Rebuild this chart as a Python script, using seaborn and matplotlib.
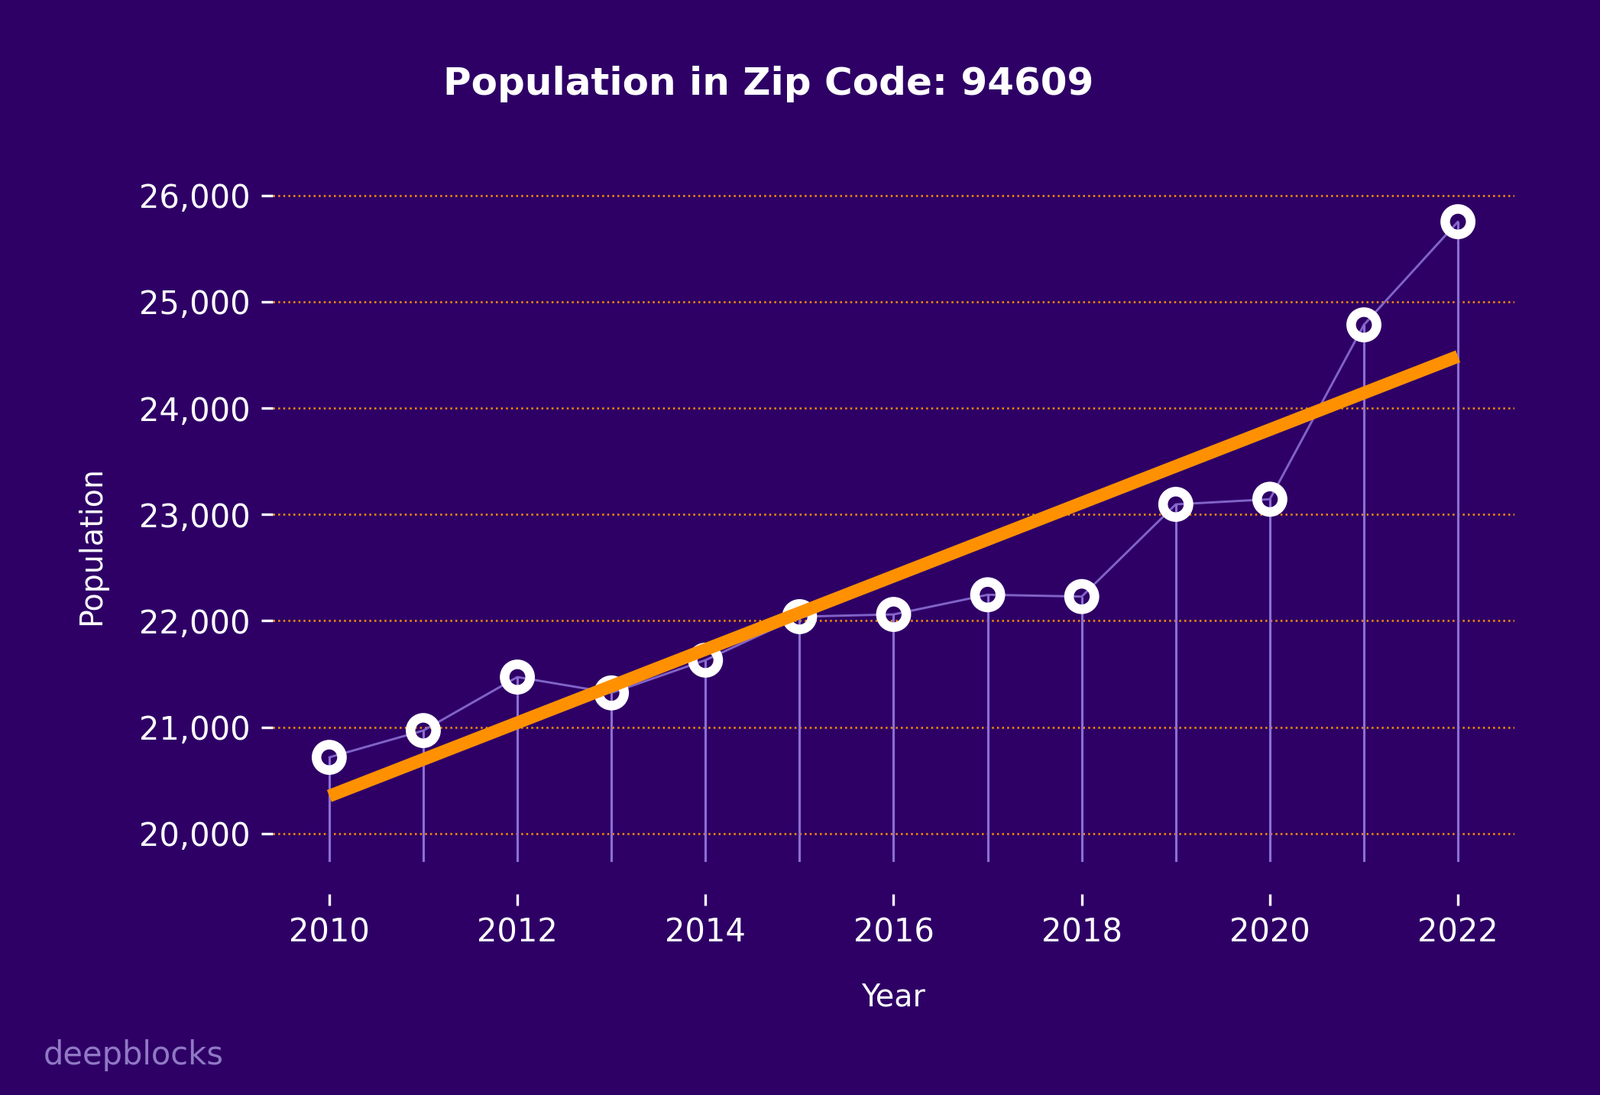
import numpy as np
import pandas as pd
import seaborn as sns
import matplotlib
matplotlib.use('Agg')
import matplotlib.pyplot as plt
from matplotlib.ticker import FuncFormatter, MultipleLocator

# === data ===
years = [2010, 2011, 2012, 2013, 2014, 2015, 2016, 2017, 2018, 2019, 2020, 2021, 2022]
population = [20716, 20968, 21471, 21322, 21630, 22039, 22060, 22245, 22228, 23095, 23143, 24783, 25753]

title = 'Population in Zip Code: 94609'
x_label = 'Year'
y_label = 'Population'
watermark = 'deepblocks'

df = pd.DataFrame({'Year': years, 'Population': population})

# === style ===
BG = '#2e0066'
LAVENDER = '#8b6fd3'
ORANGE = '#ff9100'

sns.set_style('ticks')
plt.rcParams['font.family'] = ['DejaVu Sans']
plt.rcParams['text.color'] = 'white'
plt.rcParams['axes.labelcolor'] = 'white'

fig = plt.figure(figsize=(2094 / 300, 1433 / 300), dpi=300, facecolor=BG)
ax = fig.add_axes([0.1705, 0.2126, 0.776, 0.6138])
ax.set_facecolor(BG)

Y_MIN, Y_MAX = 19730, 26050

# stems from the bottom of the axes to each point
ax.vlines(df['Year'], Y_MIN, df['Population'], color=LAVENDER, linewidth=0.75, zorder=2)
# thin line connecting the points
sns.lineplot(data=df, x='Year', y='Population', color=LAVENDER, linewidth=0.7,
             alpha=0.9, zorder=2, ax=ax)
# ring markers
sns.scatterplot(data=df, x='Year', y='Population', s=64, facecolor='none',
                edgecolor='white', linewidth=3, zorder=3, ax=ax)
# linear trend
sns.regplot(data=df, x='Year', y='Population', scatter=False, ci=None,
            line_kws={'color': ORANGE, 'linewidth': 4, 'zorder': 4,
                      'solid_capstyle': 'butt'}, ax=ax)

ax.set_ylim(Y_MIN, Y_MAX)
ax.yaxis.set_major_locator(MultipleLocator(1000))
ax.yaxis.set_major_formatter(FuncFormatter(lambda v, p: f'{int(v):,}'))
ax.xaxis.set_major_locator(MultipleLocator(2))

ax.grid(axis='y', color=ORANGE, linestyle=':', linewidth=0.6)
ax.grid(axis='x', visible=False)
ax.set_axisbelow(True)

for side in ['top', 'right', 'left', 'bottom']:
    ax.spines[side].set_visible(False)
ax.spines['bottom'].set_position(('outward', 10))

ax.tick_params(axis='both', colors='white', labelcolor='white', labelsize=10,
               length=3.5, width=0.8, direction='out')

ax.set_xlabel(x_label, fontsize=9.5, color='white', va='baseline')
ax.xaxis.set_label_coords(0.4997, -0.2142)
ax.set_ylabel(y_label, fontsize=9.5, color='white', va='center')
ax.yaxis.set_label_coords(-0.1458, 0.471)

fig.suptitle(title, x=0.4804, y=0.9135, ha='center', va='baseline',
             fontsize=12, fontweight='bold', color='white')
fig.text(0.0272, 0.0279, watermark, fontsize=10, color='#9079c4', ha='left', va='baseline')

fig.savefig('out.png', dpi=300, facecolor=BG)
